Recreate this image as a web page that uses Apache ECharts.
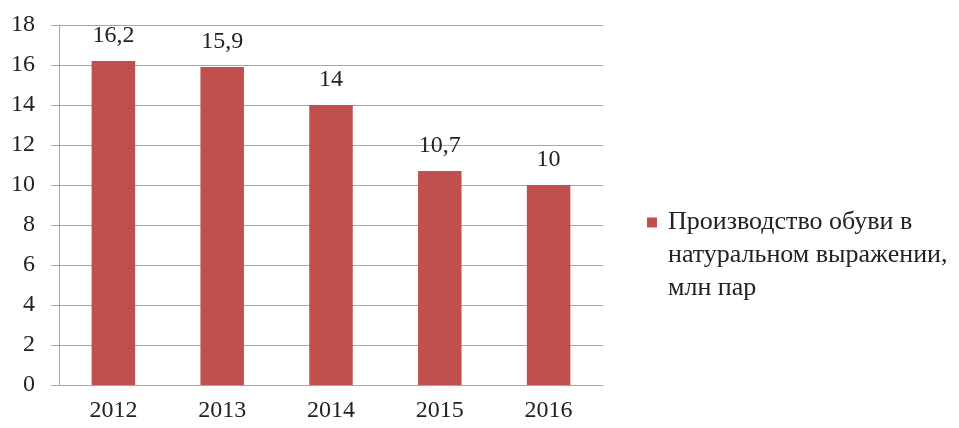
<!DOCTYPE html>
<html>
<head>
<meta charset="utf-8">
<script src="https://cdn.jsdelivr.net/npm/echarts@6/dist/echarts.min.js"></script>
<style>
  html, body { margin: 0; padding: 0; background: #fff; }
  #chart { width: 959px; height: 428px; }
</style>
</head>
<body>
<div id="chart"></div>
<script>
// Footwear production, natural units (million pairs)
const years = ['2012', '2013', '2014', '2015', '2016'];
const production = [16.2, 15.9, 14, 10.7, 10];
const seriesName = 'Производство обуви в\nнатуральном выражении,\nмлн пар';

const font = '"Liberation Serif", "Times New Roman", serif';
const gridColor = '#a6a6a6';
const barColor = '#c0504d';
const legendLine = 33;
// Square marker pinned to the top-left of a larger icon box, so it sits
// beside the first text line with a little extra gap before the text
const iconW = 16;
const iconH = 10 + 2 * legendLine;
const legendIcon = 'path://M0,0h10v10h-10z M' + (iconW - 0.01) + ',' + (iconH - 0.01) + 'h0.01v0.01h-0.01z';

const chart = echarts.init(document.getElementById('chart'));
chart.setOption({
  animation: false,
  backgroundColor: '#fff',
  textStyle: { fontFamily: font },
  grid: { left: 59, right: 356, top: 25, bottom: 43 },
  legend: {
    show: true,
    left: 642,
    top: 201,
    orient: 'vertical',
    itemWidth: iconW,
    itemHeight: iconH,
    icon: legendIcon,
    symbolKeepAspect: false,
    data: [seriesName],
    textStyle: {
      fontFamily: font,
      fontSize: 26,
      color: '#222',
      lineHeight: legendLine
    }
  },
  xAxis: {
    type: 'category',
    data: years,
    axisLine: { lineStyle: { color: gridColor, width: 1 } },
    axisTick: { show: false },
    axisLabel: { color: '#222', fontSize: 24, fontFamily: font, margin: 14 }
  },
  yAxis: {
    type: 'value',
    min: 0,
    max: 18,
    interval: 2,
    axisLine: { show: true, lineStyle: { color: gridColor, width: 1 } },
    axisTick: { show: true, length: 8, lineStyle: { color: gridColor } },
    splitLine: { lineStyle: { color: gridColor, width: 1 } },
    axisLabel: { color: '#222', fontSize: 24, fontFamily: font, margin: 24 }
  },
  series: [{
    name: seriesName,
    type: 'bar',
    data: production,
    barWidth: '40%',
    itemStyle: { color: barColor },
    label: {
      show: true,
      position: 'top',
      distance: 13,
      color: '#222',
      fontSize: 24,
      fontFamily: font,
      formatter: p => String(p.value).replace('.', ',')
    }
  }]
});
</script>
</body>
</html>
